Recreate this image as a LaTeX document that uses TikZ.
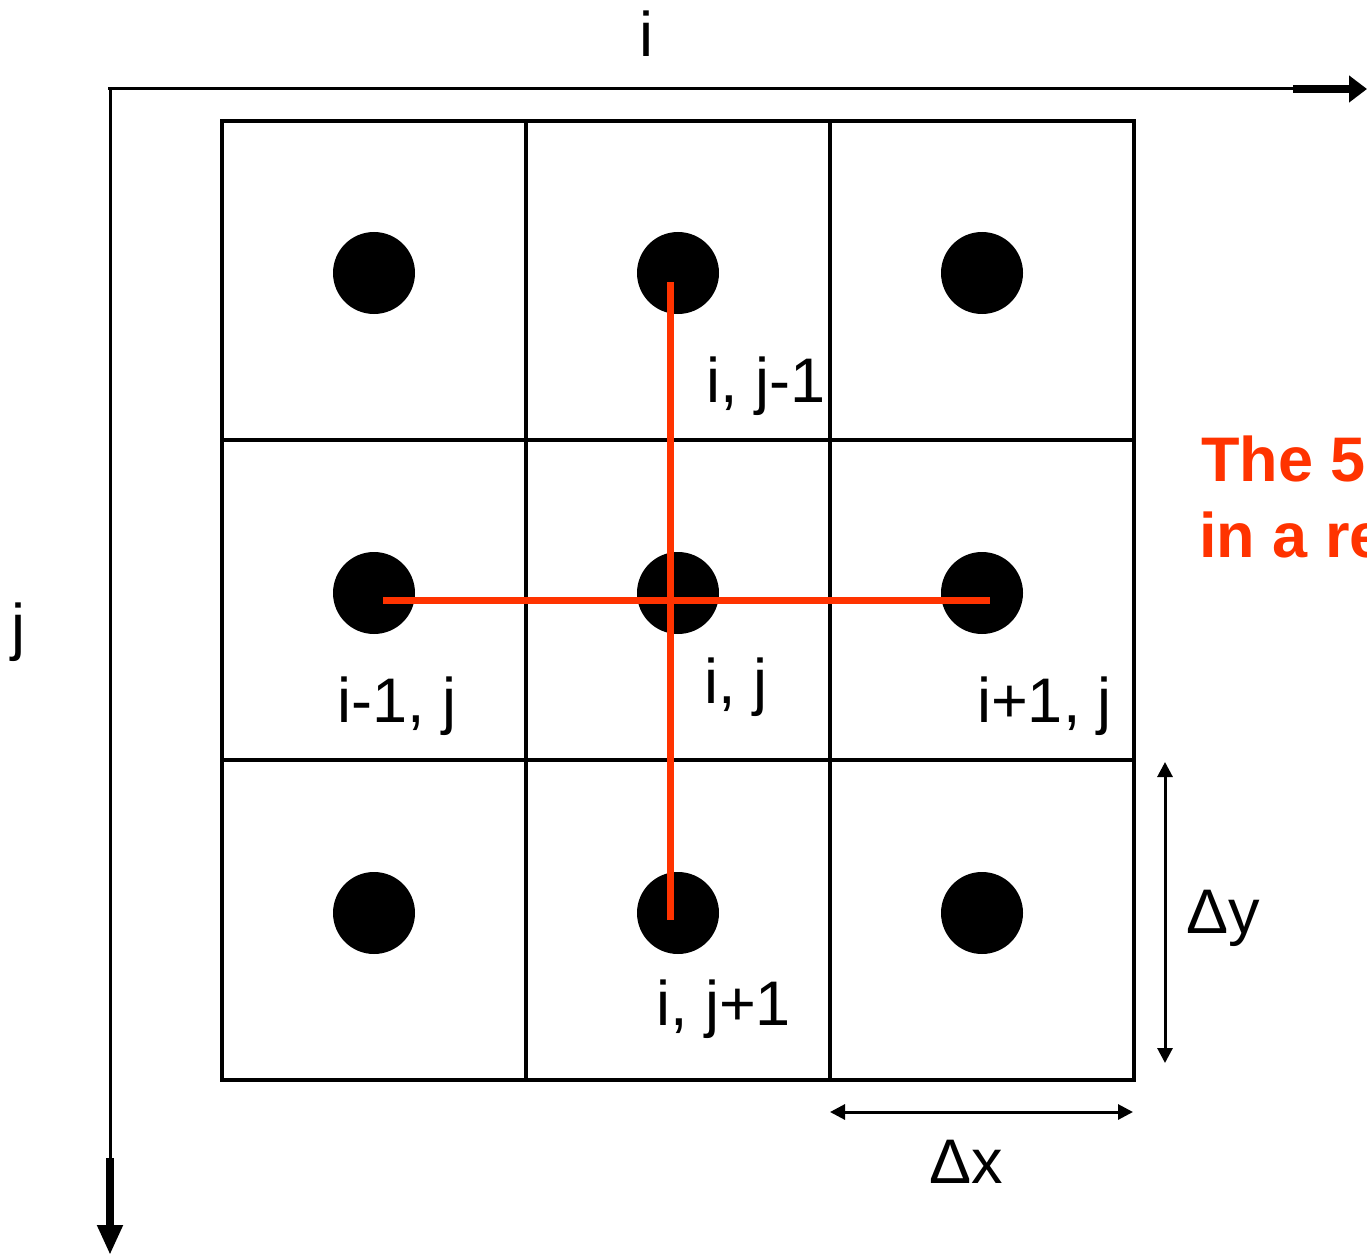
\documentclass[tikz,border=0pt]{standalone}
\usepackage{fontspec}
\setmainfont{Liberation Sans}
\usetikzlibrary{arrows.meta}
\definecolor{stencil}{RGB}{255,51,0}
\begin{document}
\begin{tikzpicture}[x=1pt,y=-1pt,
  gridline/.style={line width=3.5pt,black},
  dot/.style={circle,fill=black,minimum size=82pt,inner sep=0pt},
  lbl/.style={anchor=base west,inner sep=0pt,font=\fontsize{63}{75}\selectfont},
  redtxt/.style={anchor=base west,inner sep=0pt,text=stencil,font=\fontsize{63}{75}\selectfont\bfseries},
  redline/.style={line width=7pt,stencil},
  axisthin/.style={line width=3pt},
  axisthick/.style={line width=8pt},
  dimarrow/.style={line width=3pt,{Triangle[length=15pt,width=15pt]}-{Triangle[length=15pt,width=15pt]}}]
\useasboundingbox (0,0) rectangle (1367,1257);
\clip (0,0) rectangle (1367,1257);
% axes
\coordinate (o) at (110,89);
\coordinate (xa) at (1295,89);
\coordinate (xb) at (1367,89);
\coordinate (ya) at (110,1160);
\coordinate (yb) at (110,1257);
\draw[axisthin] (108,89) -- (xa);
\draw[axisthick,-{Triangle[length=18pt,width=26pt]}] (1293,89) -- (xb);
\draw[axisthin] (o) -- (ya);
\draw[axisthick,-{Triangle[length=30pt,width=24pt]}] (110,1158) -- (110,1255);
% grid
\draw[gridline] (222,121) rectangle (1134,1080);
\draw[gridline] (526,121) -- (526,1080);
\draw[gridline] (830,121) -- (830,1080);
\draw[gridline] (222,440) -- (1134,440);
\draw[gridline] (222,760) -- (1134,760);
% dots
\foreach \c/\x in {1/374,2/678,3/982}{
  \foreach \r/\y in {1/273,2/593,3/913}{
    \node[dot] (d\c\r) at (\x,\y) {};
  }
}
% stencil lines
\coordinate (vt) at (670,282);
\coordinate (vb) at (670,920);
\coordinate (hl) at (383,600);
\coordinate (hr) at (990,600);
\draw[redline] (vt) -- (vb);
\draw[redline] (hl) -- (hr);
% dimension arrows
\coordinate (dya) at (1165,762);
\coordinate (dyb) at (1165,1063);
\coordinate (dxa) at (830,1112);
\coordinate (dxb) at (1133,1112);
\draw[dimarrow] (dya) -- (dyb);
\draw[dimarrow] (dxa) -- (dxb);
% labels
\node[lbl] (li) at (639,57) {i};
\node[lbl] (lj) at (11,648) {j};
\node[lbl] (ljm) at (706,402) {i, j-1};
\node[lbl] (lim) at (337,722) {i-1, j};
\node[lbl] (lij) at (704,703) {i, j};
\node[lbl] (lip) at (977,722) {i+1, j};
\node[lbl] (ljp) at (656,1025) {i, j+1};
\node[lbl] (ldy) at (1186,933) {Δy};
\node[lbl] (ldx) at (929,1183) {Δx};
\node[redtxt] (t1) at (1201,481) {The 5};
\node[redtxt] (t2) at (1199,557) {in a re};
\end{tikzpicture}
\end{document}
